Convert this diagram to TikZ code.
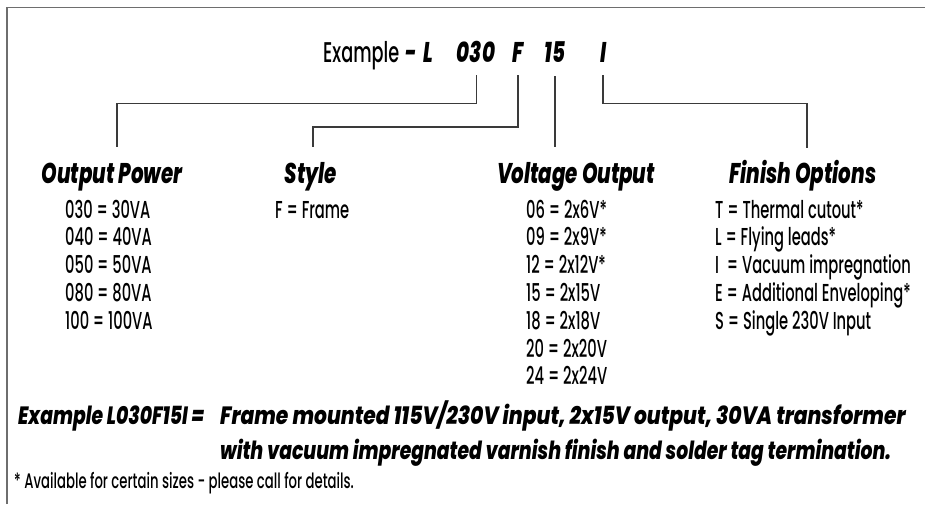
\documentclass[tikz,border=0pt]{standalone}
\usepackage{fontspec}
\newfontfamily\futr{Poppins}[FakeStretch=0.60,UprightFont=* Medium]
\newfontfamily\futx{Poppins}[FakeStretch=0.62,UprightFont=* Medium]
\newfontfamily\futf{Poppins}[FakeStretch=0.63,UprightFont=* Medium]
\newfontfamily\futb{Poppins}[FakeStretch=0.695,UprightFont=* ExtraBold Italic]
\newfontfamily\futc{Poppins}[FakeStretch=0.75,UprightFont=* ExtraBold Italic]
\newfontfamily\futd{Poppins}[FakeStretch=0.81,UprightFont=* ExtraBold Italic]
\definecolor{framegrey}{HTML}{6E6E6E}
\definecolor{linegrey}{HTML}{3A3A3A}
\tikzset{
  frameline/.style={draw=framegrey,line width=1.6pt},
  conn/.style={draw=linegrey,line width=1.1pt},
  ex/.style={inner sep=0pt,anchor=base,font=\futb\fontsize{28.5}{30}\selectfont},
  head/.style={inner sep=0pt,anchor=base,font=\futb\fontsize{28.5}{30}\selectfont},
  item/.style={inner sep=0pt,anchor=base west,font=\futr\fontsize{24.5}{26}\selectfont},
  bottomtxt/.style={inner sep=0pt,anchor=base west,font=\futc\fontsize{25}{26}\selectfont},
  foot/.style={inner sep=0pt,anchor=base west,font=\futf\fontsize{21}{22}\selectfont},
}
\begin{document}
\begin{tikzpicture}[x=1pt,y=-1pt]
\useasboundingbox (0,0) rectangle (925,504);
\fill[white] (0,0) rectangle (925,504);
% frame (open at right and bottom)
\draw[frameline] (7,504) -- (7,7.5) -- (925,7.5);
% example code
\node[inner sep=0pt,anchor=base west,font=\futx\fontsize{28.5}{30}\selectfont] (exw) at (323,62) {Example};
\node[ex] (dash) at (411,62) {-};
\node[ex] (cL) at (428,62) {L};
\node[ex] (c030) at (476,62) {030};
\node[ex] (cF) at (518,62) {F};
\node[ex] (c15) at (555,62) {15};
\node[ex] (cI) at (604,62) {I};
% headings
\node[head] (hpow) at (112,183) {Output Power};
\node[head] (hsty) at (311,183) {Style};
\node[head] (hvol) at (576,183) {Voltage Output};
\node[head] (hfin) at (803,183) {Finish Options};
% connector end points
\coordinate (p030) at (476.7,75);
\coordinate (pF) at (518,75);
\coordinate (p15) at (555,76);
\coordinate (pI) at (603,75);
\coordinate (q030) at (117,147);
\coordinate (qF) at (313,147);
\coordinate (q15) at (555,147);
\coordinate (qI) at (807,148);
\draw[conn] (p030) -- (476.7,103.5) -| (q030);
\draw[conn] (pF) -- (518,127) -| (qF);
\draw[conn] (p15) -- (q15);
\draw[conn] (pI) -- (603,103.5) -| (qI);
% output power list
\node[item] (o1) at (65,218) {030 = 30VA};
\node[item] (o2) at (65,245.8) {040 = 40VA};
\node[item] (o3) at (65,273.6) {050 = 50VA};
\node[item] (o4) at (65,301.4) {080 = 80VA};
\node[item] (o5) at (65,329.2) {100 = 100VA};
% style list
\node[item] (s1) at (275,218) {F = Frame};
% voltage list
\node[item] (v1) at (526,218) {06 = 2x6V*};
\node[item] (v2) at (526,245.8) {09 = 2x9V*};
\node[item] (v3) at (526,273.6) {12 = 2x12V*};
\node[item] (v4) at (526,301.4) {15 = 2x15V};
\node[item] (v5) at (526,329.2) {18 = 2x18V};
\node[item] (v6) at (526,357) {20 = 2x20V};
\node[item] (v7) at (526,384.8) {24 = 2x24V};
% finish list
\node[item] (f1) at (715,218) {T = Thermal cutout*};
\node[item] (f2) at (715,245.8) {L = Flying leads*};
\node[item] (f3) at (715,273.6) {I\hspace{4pt} = Vacuum impregnation};
\node[item] (f4) at (715,301.4) {E = Additional Enveloping*};
\node[item] (f5) at (715,329.2) {S = Single 230V Input};
% bottom example
\node[bottomtxt] (b0) at (18,424) {Example L030F15I =};
\node[bottomtxt,font=\futd\fontsize{25}{26}\selectfont] (b1) at (220,424) {Frame mounted 115V/230V input, 2x15V output, 30VA transformer};
\node[bottomtxt] (b2) at (220,459) {with vacuum impregnated varnish finish and solder tag termination.};
\node[foot] (fn) at (14,488) {* Available for certain sizes - please call for details.};
\end{tikzpicture}
\end{document}
